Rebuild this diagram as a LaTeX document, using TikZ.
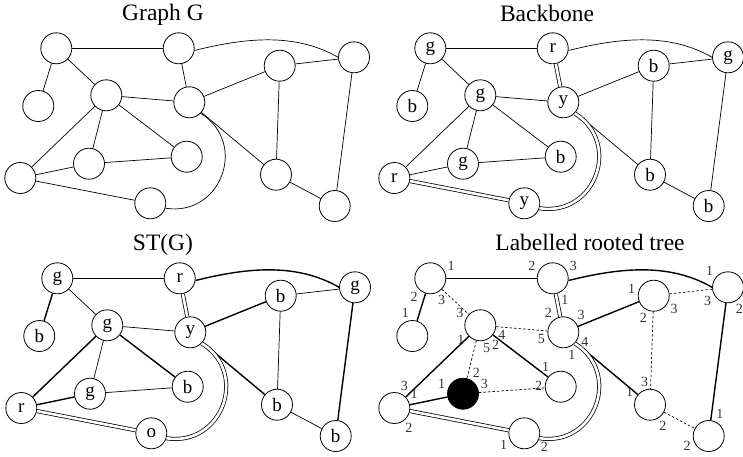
\documentclass[tikz,border=0pt]{standalone}
\usepackage{fontspec}
\setmainfont{Liberation Serif}
\usetikzlibrary{positioning}

\tikzset{
  vtx/.style={circle, draw, line width=0.8pt, minimum size=31pt, inner sep=0pt, font=\fontsize{19}{19}\selectfont},
  blk/.style={vtx, fill=black},
  plain/.style={line width=0.7pt},
  tree/.style={line width=1.4pt},
  cotree/.style={line width=0.7pt, dash pattern=on 2.5pt off 2pt},
  bone/.style={line width=0.75pt, double, double distance=2.6pt},
  heading/.style={anchor=base, font=\fontsize{23.5}{24}\selectfont},
  port/.style={font=\fontsize{14}{14}\selectfont, text=black!80, inner sep=0.5pt},
  every label/.append style={port},
  label distance=2pt
}

\begin{document}
\begin{tikzpicture}[x=1pt, y=1pt]
\useasboundingbox (0,0) rectangle (743,-456);

% Graph G
\begin{scope}
  \node[heading] (tg) at (163,-20.7) {Graph G};
  \foreach \n/\x/\y in {a/56.3/48.3, b/178.7/48.3, c/354/57.3, d/279.7/65.7, e/38.3/106, f/106.3/95.3, g/189.3/102.3,
                        h/186.7/156.7, i/89/163.7, j/20.3/178, k/150.3/203.3, l/276/174.7, m/334.7/206}
    \node[vtx] (g\n) at (\x,-\y) {};
  \foreach \u/\v in {a/b, a/e, a/f, b/g, d/c, g/d, f/g, f/j, f/i, f/h, i/j, i/h, j/k, g/l, d/l, l/m, c/m}
    \draw[plain] (g\u) -- (g\v);
  \draw[plain] (gb.-8) to[out=14, in=150, looseness=0.9] (gc.west);
  \draw[plain] (gk.-18) to[out=-9, in=-32, looseness=1.42] (gg.-44);
\end{scope}

% Backbone
\begin{scope}[shift={(374,0)}]
  \node[heading] (tb) at (173,-21.5) {Backbone};
  \foreach \n/\x/\y/\t in {a/56.3/48.3/g, b/178.7/48.3/r, c/354/57.3/g, d/279.7/65.7/b, e/38.3/106/b, f/106.3/95.3/g, g/189.3/102.3/y,
                           h/186.7/156.7/b, i/89/163.7/g, j/20.3/178/r, k/150.3/203.3/y, l/276/174.7/b, m/334.7/206/b}
    \node[vtx] (b\n) at (\x,-\y) {\t};
  \foreach \u/\v in {a/b, a/e, a/f, d/c, g/d, f/g, f/j, f/i, f/h, i/j, i/h, g/l, d/l, l/m, c/m}
    \draw[plain] (b\u) -- (b\v);
  \draw[plain] (bb.-8) to[out=14, in=150, looseness=0.9] (bc.west);
  \draw[bone] (bb) -- (bg);
  \draw[bone] (bj) -- (bk);
  \draw[bone] (bk.-18) to[out=-9, in=-32, looseness=1.42] (bg.-44);
\end{scope}

% ST(G)
\begin{scope}[shift={(1,-230)}]
  \node[heading] (ts) at (162,-20.7) {ST(G)};
  \foreach \n/\x/\y/\t in {a/56.3/48.3/g, b/178.7/48.3/r, c/354/57.3/g, d/279.7/65.7/b, e/38.3/106/b, f/106.3/95.3/g, g/189.3/102.3/y,
                           h/186.7/156.7/b, i/89/163.7/g, j/20.3/178/r, k/150.3/203.3/o, l/276/174.7/b, m/334.7/206/b}
    \node[vtx] (s\n) at (\x,-\y) {\t};
  \foreach \u/\v in {a/b, a/e, f/j, f/h, i/j, g/d, g/l, c/m}
    \draw[tree] (s\u) -- (s\v);
  \foreach \u/\v in {a/f, f/g, f/i, i/h, d/c, d/l, l/m}
    \draw[plain] (s\u) -- (s\v);
  \draw[tree] (sb.-8) to[out=14, in=150, looseness=0.9] (sc.west);
  \draw[bone] (sb) -- (sg);
  \draw[bone] (sj) -- (sk);
  \draw[bone] (sk.-18) to[out=-9, in=-32, looseness=1.42] (sg.-44);
\end{scope}

% Labelled rooted tree
\begin{scope}[shift={(374,-230)}]
  \node[heading] (tl) at (216,-20) {Labelled rooted tree};
  \node[vtx, label=22:1, label=228:2, label=-67:3] (la) at (56.3,-48.3) {};
  \node[vtx, label=158:2, label=23:3, label=-64:1] (lb) at (178.7,-48.3) {};
  \node[vtx, label=143:1, label=206:3, label=-66:2] (lc) at (354,-57.3) {};
  \node[vtx, label=174:1, label=-25:3, label=250:2] (ld) at (279.7,-65.7) {};
  \node[vtx, label=99:1] (le) at (38.3,-106) {};
  \node[vtx, label=156:3, label=211:1, label=-83:5, label=-52:2, label=-15:4] (lf) at (106.3,-95.3) {};
  \node[vtx, label=127:2, label=41:3, label=-14:4, label=-76:1, label=185:5] (lg) at (189.3,-102.3) {};
  \node[vtx, label=127:1, label=178:2] (lh) at (186.7,-156.7) {};
  \node[blk, label=165:1, label=59:2, label=15:3] (li) at (89,-163.7) {};
  \node[vtx, label=71:3, label=30:1, label=-55:2] (lj) at (20.3,-178) {};
  \node[vtx, label=202:1, label=-28:2] (lk) at (150.3,-203.3) {};
  \node[vtx, label=94:3, label=154:1, label=-61:2] (ll) at (276,-174.7) {};
  \node[vtx, label=195:2, label=67:1] (lm) at (334.7,-206) {};
  \foreach \u/\v in {a/b, a/e, f/j, f/h, i/j, g/d, g/l, c/m}
    \draw[tree] (l\u) -- (l\v);
  \foreach \u/\v in {a/f, f/g, f/i, i/h, d/c, d/l, l/m}
    \draw[cotree] (l\u) -- (l\v);
  \draw[tree] (lb.-8) to[out=14, in=150, looseness=0.9] (lc.west);
  \draw[bone] (lb) -- (lg);
  \draw[bone] (lj) -- (lk);
  \draw[bone] (lk.-18) to[out=-9, in=-32, looseness=1.42] (lg.-44);
\end{scope}
\end{tikzpicture}
\end{document}
